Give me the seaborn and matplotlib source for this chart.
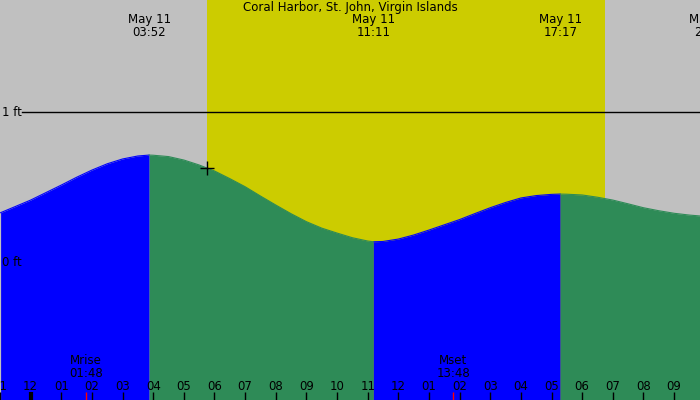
import numpy as np
import pandas as pd
import matplotlib
matplotlib.use("Agg")
import matplotlib.pyplot as plt
import matplotlib.transforms as mtransforms
import seaborn as sns

# ---------------- data ----------------
station = "Coral Harbor, St. John, Virgin Islands"

# hours since May 11 00:00, tide height (ft)
tide_hours = [-0.98, -0.5, 0.0, 0.5, 1.0, 1.5, 2.0, 2.5, 3.0, 3.5, 3.867, 4.0, 4.5,
              5.0, 5.5, 6.0, 6.5, 7.0, 7.5, 8.0, 8.5, 9.0, 9.5, 10.0, 10.5, 11.0,
              11.183, 11.5, 12.0, 12.5, 13.0, 13.5, 14.0, 14.5, 15.0, 15.5, 16.0,
              16.5, 17.0, 17.283, 17.5, 18.0, 18.5, 19.0, 19.5, 20.0, 20.5, 21.0,
              21.5, 21.85]
tide_ft = [0.329, 0.370, 0.413, 0.463, 0.513, 0.565, 0.613, 0.655, 0.687, 0.707,
           0.713, 0.712, 0.703, 0.680, 0.647, 0.607, 0.556, 0.502, 0.440, 0.380,
           0.322, 0.269, 0.226, 0.193, 0.162, 0.140, 0.135, 0.137, 0.153, 0.180,
           0.213, 0.248, 0.283, 0.323, 0.362, 0.397, 0.427, 0.443, 0.451, 0.453,
           0.452, 0.447, 0.432, 0.413, 0.388, 0.362, 0.342, 0.325, 0.313, 0.307]

extreme_hours = [3.867, 11.183, 17.283, 22.2]
extreme_labels = ["May 11\n03:52", "May 11\n11:11", "May 11\n17:17", "May 11\n22:12"]

sunrise_hour = 5.77
sunset_hour = 18.75
marker_hour = 5.77
marker_ft = 0.63

moon_hours = [1.8, 13.8]
moon_labels = ["Mrise\n01:48", "Mset\n13:48"]

tick_hours = list(range(-1, 22))
tick_labels = ["11", "12", "01", "02", "03", "04", "05", "06", "07", "08", "09",
               "10", "11", "12", "01", "02", "03", "04", "05", "06", "07", "08",
               "09"]

level_ft = [1, 0]
level_labels = ["1 ft", "0 ft"]

# ---------------- styling ----------------
SILVER = "#C0C0C0"
YELLOW = "#CCCC00"
BLUE = "#0000FF"
GREEN = "#2E8B57"

plt.rcParams["font.family"] = ["DejaVu Sans"]
FS = 8.5

fig = plt.figure(figsize=(7, 4), dpi=100)
ax = fig.add_axes([0, 0, 1, 1])
ax.set_facecolor(SILVER)
ax.set_axisbelow(False)
for s in ax.spines.values():
    s.set_visible(False)

x0, x1 = -0.978, 21.846
y0, y1 = -0.92, 1.747
ax.set_xlim(x0, x1)
ax.set_ylim(y0, y1)

# daylight
ax.axvspan(sunrise_hour, sunset_hour, color=YELLOW, lw=0, zorder=0)

# 1 ft line
ax.axhline(1, xmin=22 / 700, xmax=1, color="black", lw=1, zorder=1)

# tide segments (rising = blue, falling = green)
df = pd.DataFrame({"hour": tide_hours, "ft": tide_ft})
bounds = [x0 - 0.01] + [h for h in extreme_hours if h < x1] + [x1 + 0.01]
rows = []
for i in range(len(bounds) - 1):
    b0, b1 = bounds[i], bounds[i + 1]
    seg = df[(df.hour >= b0 - 1e-6) & (df.hour <= b1 + 1e-6)].copy()
    nxt = [h for h in extreme_hours if h > b0 + 1e-6]
    idx = extreme_hours.index(nxt[0])
    seg["phase"] = "rising" if idx % 2 == 0 else "falling"
    seg["segment"] = i
    rows.append(seg)
segdf = pd.concat(rows, ignore_index=True)

for (sid, phase), g in segdf.groupby(["segment", "phase"]):
    ax.fill_between(g.hour, g.ft, y0, color=BLUE if phase == "rising" else GREEN,
                    lw=0, zorder=1.2)

sns.lineplot(data=segdf, x="hour", y="ft", hue="phase", units="segment",
             estimator=None, palette={"rising": BLUE, "falling": GREEN},
             legend=False, lw=0.8, ax=ax, zorder=1.3)

# current marker
sns.scatterplot(x=[marker_hour], y=[marker_ft], marker="+", s=90, color="black",
                linewidth=1, ax=ax, zorder=4)

# ticks
ax.set_xticks(tick_hours)
ax.set_xticklabels(tick_labels, fontsize=FS)
ax.set_xticks(moon_hours, minor=True)
ax.tick_params(axis="x", which="major", direction="in", length=5.8, width=1,
               color="black", pad=-14.5, labelcolor="black")
ax.tick_params(axis="x", which="minor", direction="in", length=5.8, width=1,
               color="red")
ax.set_yticks([])
for t, h in zip(ax.xaxis.get_major_ticks(), tick_hours):
    if h == 0:
        t.tick1line.set_markeredgewidth(3)
ax.set_xlabel("")
ax.set_ylabel("")

# labels
trans_xa = mtransforms.blended_transform_factory(ax.transData, ax.transAxes)
trans_ay = mtransforms.blended_transform_factory(ax.transAxes, ax.transData)

ax.text(0.5, 0.998, station, transform=ax.transAxes, ha="center", va="top",
        fontsize=FS, zorder=5)
for h, lab in zip(extreme_hours, extreme_labels):
    ax.text(h, 0.968, lab, transform=trans_xa, ha="center", va="top",
            fontsize=FS, linespacing=1.0, zorder=5)
for h, lab in zip(moon_hours, moon_labels):
    ax.text(h, 0.0825, lab, transform=trans_xa, ha="center", va="center",
            fontsize=FS, linespacing=1.0, zorder=5)
for v, lab in zip(level_ft, level_labels):
    ax.text(0.003, v, lab, transform=trans_ay, ha="left", va="center",
            fontsize=FS, zorder=5)

fig.savefig("out.png", dpi=100)
